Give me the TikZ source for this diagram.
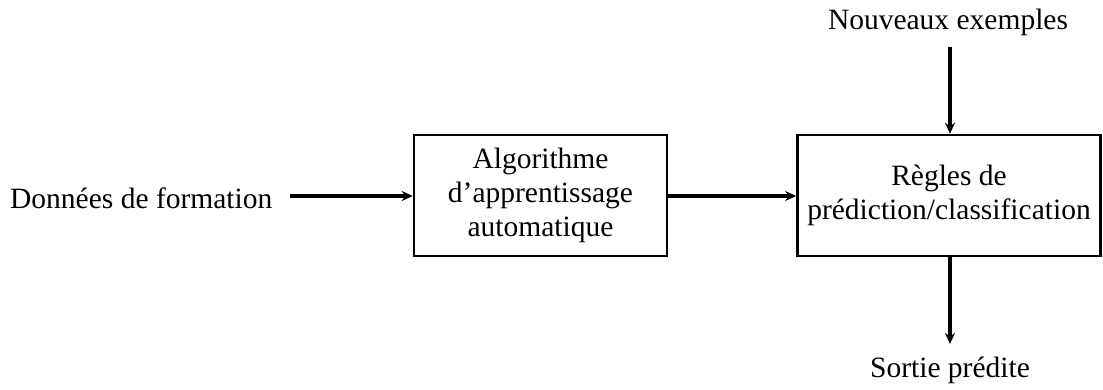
\documentclass[tikz,border=0pt]{standalone}
\usepackage{fontspec}
\setmainfont{Liberation Serif}
\usetikzlibrary{arrows.meta}
\begin{document}
\begin{tikzpicture}[x=1pt,y=-1pt,
  lbl/.style={font=\fontsize{29.5}{34}\selectfont, inner sep=0pt, align=center},
  blk/.style={draw, line width=2.6pt, font=\fontsize{29.5}{34}\selectfont, align=center, inner sep=0pt},
  conn/.style={line width=3.4pt, -{Stealth[length=11pt,width=10pt]}}]
\useasboundingbox (0,0) rectangle (1103,390);
\node[blk, minimum width=253pt, minimum height=121pt] (alg) at (540.5,195.5) {Algorithme\\d'apprentissage\\automatique};
\node[blk, minimum width=303pt, minimum height=121pt] (reg) at (949,195.5) {Règles de\\prédiction/classification};
\node[lbl, anchor=west] (don) at (10,198) {Données de formation};
\node[lbl] (nouv) at (948,22) {Nouveaux exemples};
\node[lbl] (sort) at (950,370) {Sortie prédite};
\coordinate (din) at (290,196);
\coordinate (nin) at (950,47);
\coordinate (sout) at (950,344);
\draw[conn] (din) -- (din -| alg.west);
\draw[conn] (alg.east |- din) -- (din -| reg.west);
\draw[conn] (nin) -- (nin |- reg.north);
\draw[conn] (reg.south -| nin) -- (sout);
\end{tikzpicture}
\end{document}
